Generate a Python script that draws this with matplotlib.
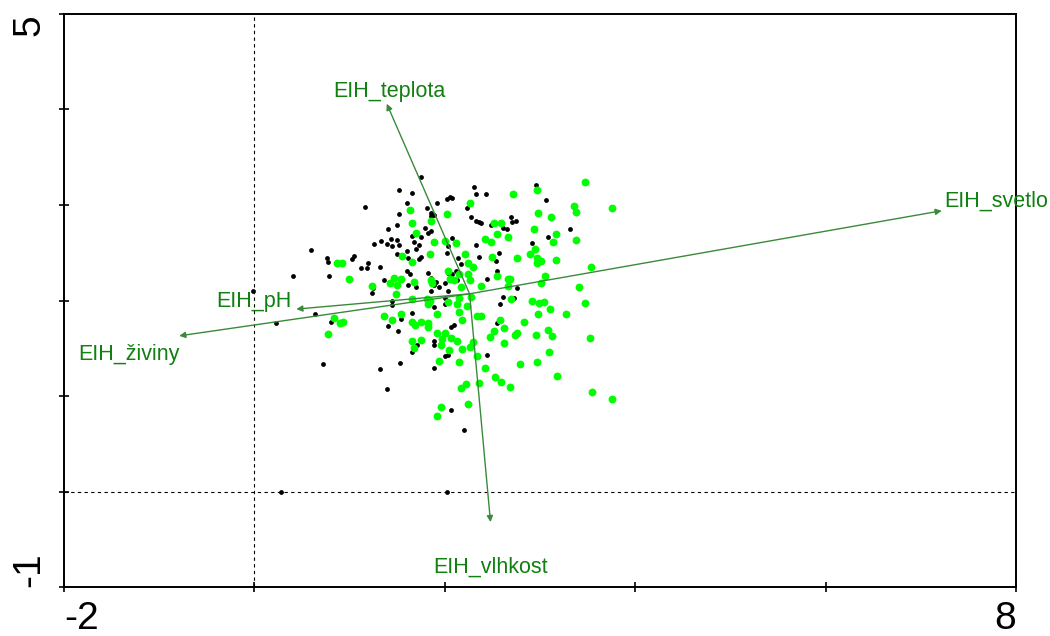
import matplotlib
matplotlib.use("Agg")
import matplotlib.pyplot as plt

plt.rcParams['font.family'] = ['Liberation Sans', 'DejaVu Sans']

# sample scores (black = group 1, green = group 2)
black_x = [1.16, 1.52, 1.40, 1.50, 1.26, 1.33, 1.39, 1.43, 1.44, 1.50, 0.59, 0.76, 0.77, 1.05, 1.03,
           1.19, 1.18, 1.12, 1.32, 0.41, 0.78, 1.36, 1.24, 1.25, 1.50, 1.45, 1.75, 1.66, 2.31, 2.33,
           2.43, 1.60, 1.92, 2.02, 2.05, 2.08, 1.81, 1.86, 1.85, 1.89, 1.52, 2.23, 2.28, 2.36, 2.33,
           2.38, 2.49, 2.61, 1.79, 1.82, 1.86, 1.65, 1.75, 2.08, 2.03, 2.02, 1.52, 1.68, 1.73, 1.70,
           2.33, 2.57, 1.60, 1.54, 1.61, 1.75, 1.73, 2.36, 2.14, 2.17, 2.54, 1.60, 1.63, 1.54, 1.82,
           1.86, 2.03, 2.08, 2.12, 2.44, 2.55, 1.91, 1.89, 1.94, 2.00, 2.13, 1.61, 1.70, 1.86, 2.03,
           2.00, 2.61, 2.96, 3.06, 2.70, 2.75, 2.71, 2.65, 3.31, 3.08, 2.92, 2.76, 2.73, 0.64, 0.80,
           0.72, 1.32, 1.39, 1.45, 1.40, 1.51, 1.54, 1.66, 1.53, 1.71, 1.65, 1.89, 1.89, 2.07, 2.10,
           2.00, 2.03, 1.89, 2.55, 2.44, 2.06, 2.20, 2.58, 2.00, 1.89, 0.28, 2.02, -0.02, 0.23]
black_y = [2.98, 3.16, 2.75, 2.79, 2.59, 2.62, 2.59, 2.64, 2.57, 2.63, 2.53, 2.45, 2.40, 2.47, 2.43,
           2.39, 2.34, 2.34, 2.35, 2.26, 2.26, 2.21, 2.08, 2.13, 2.49, 1.99, 3.29, 3.13, 3.19, 3.11,
           3.11, 3.02, 3.02, 3.06, 3.08, 3.07, 2.97, 2.92, 2.89, 2.90, 2.91, 2.97, 2.87, 2.82, 2.83,
           2.81, 2.79, 2.76, 2.76, 2.71, 2.73, 2.68, 2.66, 2.65, 2.57, 2.50, 2.58, 2.61, 2.58, 2.54,
           2.58, 2.50, 2.52, 2.47, 2.45, 2.46, 2.43, 2.46, 2.44, 2.38, 2.41, 2.31, 2.28, 2.24, 2.29,
           2.24, 2.29, 2.28, 2.31, 2.22, 2.31, 2.19, 2.16, 2.14, 2.18, 2.21, 2.16, 2.14, 2.10, 2.10,
           2.03, 2.04, 3.21, 3.05, 2.87, 2.83, 2.82, 2.75, 2.75, 2.66, 2.60, 2.13, 2.03, 1.86, 1.78,
           1.33, 1.28, 1.07, 1.95, 1.73, 1.68, 1.81, 1.87, 1.35, 1.53, 1.46, 1.58, 1.53, 1.72, 1.74,
           1.42, 1.43, 1.29, 1.76, 1.43, 0.85, 0.64, 1.96, 1.96, 1.93, -0.01, 0.00, 2.10, 1.76]

green_x = [0.87, 0.92, 0.99, 1.23, 1.47, 1.42, 1.49, 1.63, 2.26, 2.02, 1.86, 1.65, 1.70, 2.52, 2.59,
           2.55, 2.66, 2.42, 2.49, 1.89, 2.00, 2.12, 1.84, 2.21, 2.50, 1.55, 1.65, 2.24, 2.30, 1.54,
           1.50, 1.68, 1.86, 2.03, 2.15, 2.24, 2.05, 2.10, 1.87, 2.17, 2.26, 2.38, 2.55, 2.66, 2.28,
           1.84, 2.03, 2.15, 1.66, 1.81, 2.66, 3.47, 2.72, 2.97, 3.36, 3.38, 3.76, 2.98, 3.12, 2.94,
           3.17, 3.14, 3.38, 2.95, 2.90, 2.76, 2.97, 3.01, 2.97, 3.17, 3.54, 3.05, 2.68, 3.01, 3.41,
           2.69, 2.92, 2.99, 3.47, 0.84, 0.93, 0.90, 0.77, 1.36, 1.44, 1.54, 1.82, 2.13, 2.23, 1.92,
           2.15, 2.18, 2.34, 2.38, 2.58, 1.66, 1.75, 1.82, 1.69, 1.82, 1.92, 2.00, 2.52, 2.62, 1.65,
           1.75, 1.97, 2.07, 2.13, 2.30, 2.47, 2.62, 1.68, 1.96, 2.26, 2.18, 2.04, 2.34, 1.94, 2.15,
           2.42, 2.53, 2.59, 2.36, 2.22, 2.17, 2.68, 2.24, 1.96, 1.92, 3.04, 3.11, 2.98, 3.27, 2.83,
           2.76, 2.74, 2.96, 3.08, 3.13, 3.52, 3.09, 2.79, 2.97, 3.18, 3.55, 3.76]
green_y = [2.39, 2.39, 2.23, 2.15, 2.24, 2.18, 2.07, 2.95, 3.02, 2.91, 2.83, 2.81, 2.71, 2.81, 2.81,
           2.70, 2.66, 2.64, 2.61, 2.61, 2.62, 2.60, 2.49, 2.49, 2.46, 2.47, 2.40, 2.39, 2.35, 2.22,
           2.16, 2.19, 2.21, 2.31, 2.28, 2.28, 2.23, 2.21, 2.18, 2.14, 2.21, 2.15, 2.26, 2.23, 2.04,
           2.00, 1.98, 2.03, 2.02, 2.02, 2.15, 3.24, 3.11, 3.16, 2.99, 2.93, 2.97, 2.92, 2.87, 2.75,
           2.70, 2.61, 2.63, 2.54, 2.49, 2.45, 2.44, 2.41, 2.39, 2.42, 2.35, 2.26, 2.23, 2.18, 2.14,
           2.02, 2.00, 1.97, 1.97, 1.82, 1.78, 1.76, 1.65, 1.84, 1.80, 1.86, 1.96, 1.96, 1.94, 1.86,
           1.88, 1.80, 1.84, 1.84, 1.80, 1.78, 1.77, 1.76, 1.74, 1.72, 1.66, 1.66, 1.68, 1.71, 1.58,
           1.59, 1.60, 1.61, 1.58, 1.57, 1.62, 1.56, 1.50, 1.53, 1.51, 1.49, 1.48, 1.42, 1.37, 1.36,
           1.29, 1.20, 1.15, 1.14, 1.13, 1.08, 1.09, 0.92, 0.88, 0.79, 1.98, 1.91, 1.86, 1.86, 1.78,
           1.66, 1.64, 1.64, 1.69, 1.63, 1.61, 1.46, 1.34, 1.36, 1.21, 1.04, 0.97]

# environmental variables (arrows start at the centroid)
env_names = ['EIH_teplota', 'EIH_svetlo', 'EIH_pH', 'EIH_živiny', 'EIH_vlhkost']
env_x = [1.39, 7.22, 0.44, -0.79, 2.48]
env_y = [4.06, 2.94, 1.91, 1.63, -0.32]
origin = (2.26, 2.07)

# label anchor points (baseline) and alignment
lab_x = [1.42, 7.25, 0.39, -0.79, 2.48]
lab_y = [4.13, 2.98, 1.93, 1.38, -0.85]
lab_ha = ['center', 'left', 'right', 'right', 'center']

green_txt = '#108010'
green_arr = '#3a8a3a'

fig = plt.figure(figsize=(10.5, 6.36), dpi=100)
ax = fig.add_axes([0.061, 0.077, 0.9066, 0.901])

ax.axvline(0, color='black', lw=0.8, ls=(0, (3, 3)), zorder=1)
ax.axhline(0, color='black', lw=0.8, ls=(0, (3, 3)), zorder=1)

ax.scatter(black_x, black_y, s=12, color='black', lw=0, zorder=3)
ax.scatter(green_x, green_y, s=32, color='#00ff00', lw=0, zorder=3)

for name, x, y in zip(env_names, env_x, env_y):
    ax.annotate('', xy=(x, y), xytext=origin,
                arrowprops=dict(arrowstyle='-|>', color=green_arr, lw=1.0,
                                mutation_scale=9, shrinkA=0, shrinkB=0), zorder=4)

for name, x, y, ha in zip(env_names, lab_x, lab_y, lab_ha):
    ax.text(x, y, name, color=green_txt, fontsize=15.5, ha=ha, va='baseline',
            clip_on=False)

ax.set_xlim(-2, 8)
ax.set_ylim(-1, 5)
ax.set_xticks([-2, 0, 2, 4, 6, 8])
ax.set_xticklabels(['-2', '', '', '', '', '8'])
ax.set_yticks([-1, 0, 1, 2, 3, 4, 5])
ax.set_yticklabels(['-1', '', '', '', '', '', '5'], rotation=90)
ax.tick_params(direction='inout', length=7.5, width=1.2, labelsize=28)
ax.tick_params(axis='x', pad=6)
ax.tick_params(axis='y', pad=8)
xl = ax.get_xticklabels()
xl[0].set_ha('left')
xl[-1].set_ha('right')
yl = ax.get_yticklabels()
yl[0].set_va('bottom')
yl[-1].set_va('top')
for sp in ax.spines.values():
    sp.set_linewidth(1.4)

fig.savefig('out.png', dpi=100)
